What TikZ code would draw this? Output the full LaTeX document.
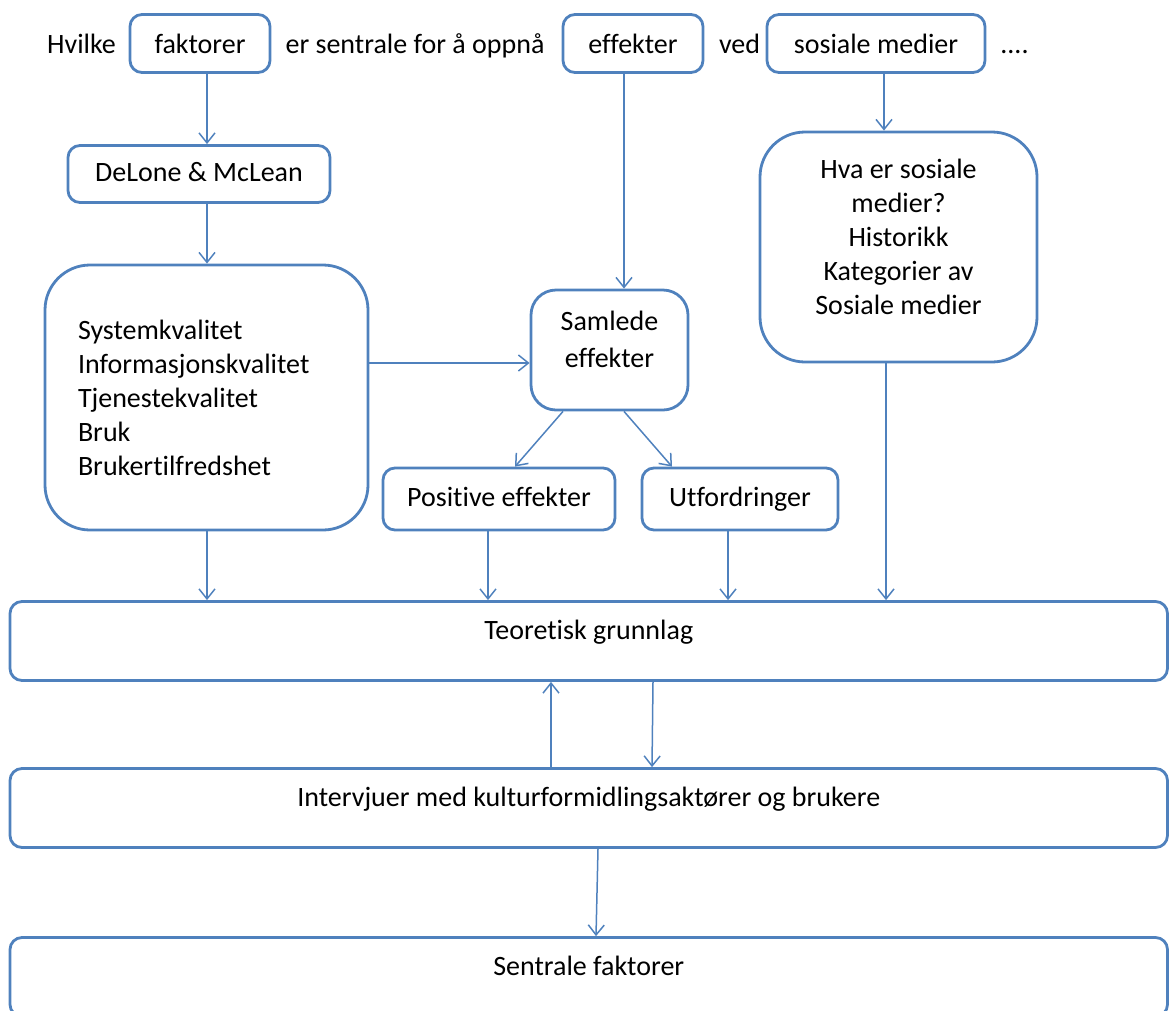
\documentclass[tikz,border=0pt]{standalone}
\usepackage{fontspec}
\setmainfont{Carlito}[Ligatures=NoCommon]
\usetikzlibrary{arrows.meta,calc}
\definecolor{ofblue}{HTML}{4F81BD}
\begin{document}
\begin{tikzpicture}[x=1pt,y=-1pt,
  every node/.style={font=\fontsize{28}{34}\selectfont, text=black},
  box/.style={draw=ofblue, line width=2.8pt, rounded corners=12pt, inner sep=0pt},
  single/.style={text height=19pt, text depth=5pt},
  topbox/.style={box, text height=19pt, text depth=0pt, minimum height=58pt},
  wide/.style={box, minimum width=1157.5pt, minimum height=79pt, text height=19pt, text depth=22pt},
  arr/.style={ofblue, line width=1.5pt, -{Straight Barb[length=10pt,width=16pt]}},
]
\clip (0,0) rectangle (1169,1010);

% question line
\node[anchor=base] (hvilke) at (81.5,53) {Hvilke};
\node[topbox,minimum width=140pt] (fak) at (200,43.5) {faktorer};
\node[anchor=base] (sentral) at (415,53) {er sentrale for å oppnå};
\node[topbox,minimum width=140pt] (eff) at (633,43.5) {effekter};
\node[anchor=base] (ved) at (739.5,53) {ved};
\node[topbox,minimum width=218pt] (sos) at (876,43.5) {sosiale medier};
\node[anchor=base] (dots) at (1014.5,53) {....};

% theory branches
\node[box,single,minimum width=262pt,minimum height=57pt] (dm) at (199,174) {DeLone \& McLean};
\node[box,rounded corners=45pt,minimum width=323pt,minimum height=265pt,text width=257pt,align=left] (kval) at (206.5,397.5)
  {Systemkvalitet\\Informasjonskvalitet\\Tjenestekvalitet\\Bruk\\Brukertilfredshet};

\node[box,rounded corners=25pt,minimum width=157pt,minimum height=120pt] (sam) at (609.5,350) {};
\node[align=center,font=\fontsize{28}{37}\selectfont] (samtxt) at ([yshift=11pt]sam.center) {Samlede\\effekter};

\node[box,rounded corners=45pt,minimum width=277pt,minimum height=230pt] (hva) at (898.5,247) {};
\node[align=center] (hvatxt) at ([yshift=10pt]hva.center)
  {Hva er sosiale\\medier?\\Historikk\\Kategorier av\\Sosiale medier};

\node[box,single,minimum width=232pt,minimum height=62pt] (pos) at (499,499) {Positive effekter};
\node[box,single,minimum width=196pt,minimum height=62pt] (utf) at (740,499) {Utfordringer};

% full-width stages
\node[wide] (teo) at (588.75,641) {Teoretisk grunnlag};
\node[wide] (int) at (588.75,808) {Intervjuer med kulturformidlingsaktører og brukere};
\node[wide] (sen) at (588.75,977) {Sentrale faktorer};

% connectors
\coordinate (c1) at ([xshift=-9pt]eff.south);
\coordinate (c2) at ([xshift=8pt]sos.south);
\coordinate (c3) at ([xshift=0.5pt]kval.south);
\coordinate (c4) at ([xshift=-11pt]pos.south);
\coordinate (c5) at ([xshift=-12pt]utf.south);
\coordinate (c6) at ([xshift=-12.5pt]hva.south);
\coordinate (c7) at ([yshift=34.5pt]kval.east);

\draw[arr] ([xshift=7pt]fak.south) -- ([xshift=8pt]dm.north);
\draw[arr] ([xshift=8pt]dm.south) -- ([xshift=0.5pt]kval.north);
\draw[arr] (c7) -- (c7 -| sam.west);
\draw[arr] (c1) -- (c1 |- sam.north);
\draw[arr] ([xshift=-46.5pt]sam.south) -- ([xshift=16pt]pos.north);
\draw[arr] ([xshift=14.5pt]sam.south) -- ([xshift=-68pt]utf.north);
\draw[arr] (c2) -- (c2 |- hva.north);
\draw[arr] (c3) -- (c3 |- teo.north);
\draw[arr] (c4) -- (c4 |- teo.north);
\draw[arr] (c5) -- (c5 |- teo.north);
\draw[arr] (c6) -- (c6 |- teo.north);
\draw[arr] ([xshift=-37.75pt]int.north) -- ([xshift=-37.75pt]teo.south);
\draw[arr] ([xshift=64.25pt]teo.south) -- ([xshift=63.25pt]int.north);
\draw[arr] ([xshift=9.25pt]int.south) -- ([xshift=7.25pt]sen.north);
\end{tikzpicture}
\end{document}
